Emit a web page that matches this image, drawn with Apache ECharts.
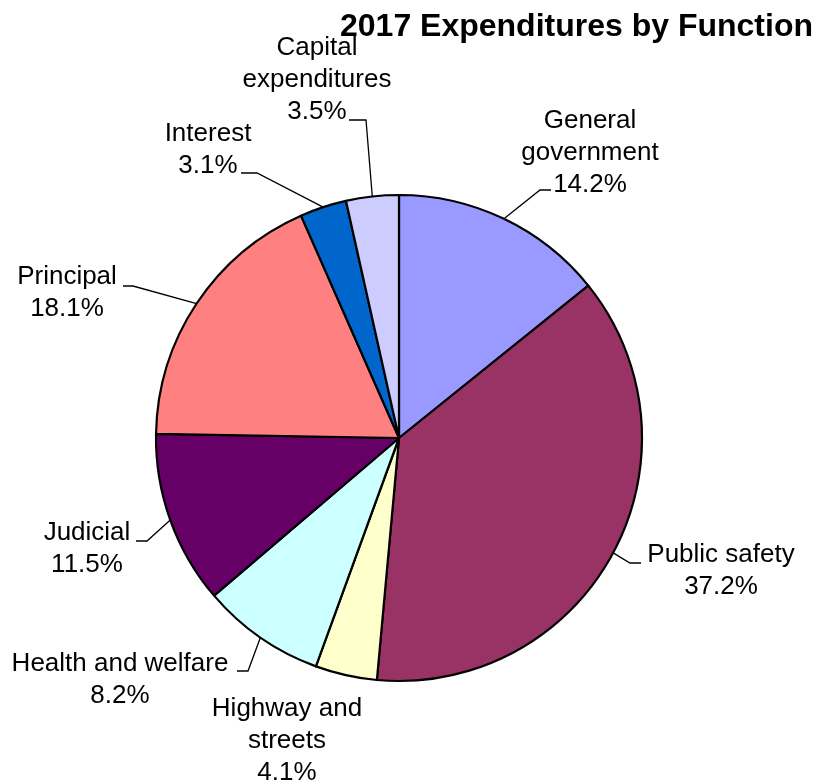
<!DOCTYPE html>
<html>
<head>
<meta charset="utf-8">
<title>2017 Expenditures by Function</title>
<script src="https://cdn.jsdelivr.net/npm/echarts@6/dist/echarts.min.js"></script>
<style>
  html, body { margin: 0; padding: 0; background: #fff; }
  #chart { width: 819px; height: 781px; }
</style>
</head>
<body>
<div id="chart"></div>
<script>
// Expenditure categories, clockwise from 12 o'clock
const categories = [
  'General\ngovernment',
  'Public safety',
  'Highway and\nstreets',
  'Health and welfare',
  'Judicial',
  'Principal',
  'Interest',
  'Capital\nexpenditures'
];
// Share of total expenditures (%)
const shares = [14.2, 37.2, 4.1, 8.2, 11.5, 18.1, 3.1, 3.5];
const sliceColors = ['#9999FF', '#993366', '#FFFFCC', '#CCFFFF', '#660066', '#FF8080', '#0066CC', '#CCCCFF'];

// Label placement: [centre x, top y] of each label block
const labelAnchors = [
  [590, 105], [721, 539], [287, 693], [120, 648],
  [87, 517], [67, 261], [208, 118], [317, 32]
];
// Leader-line elbow and end point for each label (null = no leader)
const leaderTails = [
  [[540, 190], [551, 190]],
  [[630, 563], [641, 563]],
  null,
  [[248, 671], [237, 671]],
  [[147, 541], [136, 541]],
  [[133, 286], [123, 286]],
  [[257, 173], [241, 173]],
  [[366, 120], [349, 120]]
];

const FONT = '"Liberation Sans", Arial, sans-serif';

const chart = echarts.init(document.getElementById('chart'), null, { renderer: 'canvas' });

const data = categories.map((name, i) => ({
  name,
  value: shares[i],
  itemStyle: { color: sliceColors[i] },
  labelLine: { show: leaderTails[i] !== null }
}));

chart.setOption({
  animation: false,
  title: {
    text: '2017 Expenditures by Function',
    right: 1,
    top: 6,
    textStyle: {
      fontFamily: FONT,
      fontWeight: 'bold',
      fontSize: 32,
      color: '#000'
    }
  },
  series: [{
    type: 'pie',
    center: [399, 438],
    radius: 243,
    startAngle: 90,
    clockwise: true,
    avoidLabelOverlap: false,
    data,
    itemStyle: { borderColor: '#000', borderWidth: 2.2 },
    label: {
      show: true,
      position: 'outside',
      fontFamily: FONT,
      fontSize: 26,
      lineHeight: 32,
      color: '#000',
      align: 'center',
      formatter: p => p.name + '\n' + p.value.toFixed(1) + '%'
    },
    labelLine: {
      show: true,
      length: 20,
      length2: 10,
      smooth: false,
      lineStyle: { color: '#000', width: 1.3 }
    },
    labelLayout: params => {
      const i = params.dataIndex;
      const a = labelAnchors[i];
      const out = { x: a[0], y: a[1], align: 'center', verticalAlign: 'top' };
      const tail = leaderTails[i];
      if (tail && params.labelLinePoints) {
        out.labelLinePoints = [params.labelLinePoints[0], tail[0], tail[1]];
      }
      return out;
    }
  }]
});
</script>
</body>
</html>
